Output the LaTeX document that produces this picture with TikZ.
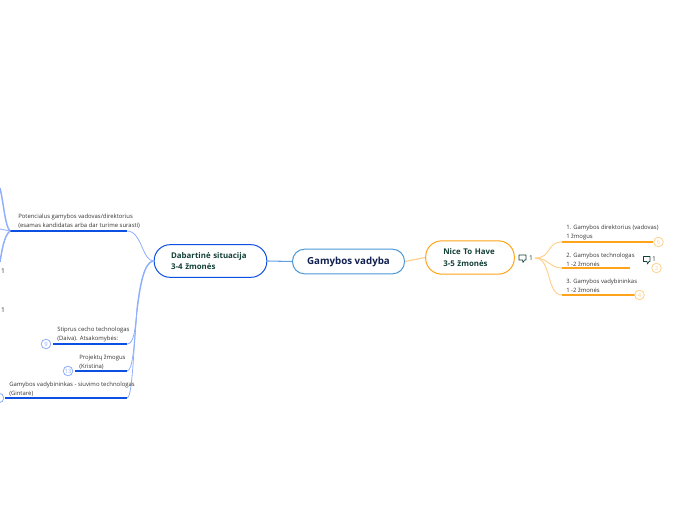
\documentclass[tikz,border=0pt]{standalone}
\usepackage{fontspec}
\setmainfont{Open Sans}
\definecolor{bl}{HTML}{0B4FE3}
\definecolor{lb}{HTML}{8FAEFB}
\definecolor{org}{HTML}{FFA31A}
\definecolor{lo}{HTML}{FFD08A}
\definecolor{rootb}{HTML}{4A97D8}
\definecolor{dg}{HTML}{123F36}
\definecolor{navy}{HTML}{10204F}
\definecolor{tx}{HTML}{333333}
\tikzset{
 main/.style={draw,rounded corners=#1,line width=0.75pt,fill=white,inner sep=0pt},
 sub/.style={font=\fontsize{4.45pt}{6.6pt}\selectfont,text=tx,align=left,anchor=south west,inner sep=0pt},
 badge/.style={circle,draw,fill=white,line width=0.6pt,minimum size=7.2pt,inner sep=0pt,font=\fontsize{4.4pt}{4.6pt}\selectfont},
 num/.style={font=\fontsize{5pt}{6pt}\selectfont,text=tx,inner sep=0pt},
 note/.style={draw=dg,line width=0.5pt,line join=round},
 thinb/.style={lb,line width=0.6pt},
 thickb/.style={lb,line width=1.1pt},
 thino/.style={lo,line width=0.7pt},
 stem/.style={line width=1pt}
}
\begin{document}
\begin{tikzpicture}[x=0.75pt,y=-0.75pt]
\useasboundingbox (0,0) rectangle (696,520);
\node[main=9pt,draw=rootb,minimum width=84pt,minimum height=18.5pt,font=\fontsize{7.3pt}{9pt}\selectfont\bfseries,text=navy] (root) at (348.5,261.5) {Gamybos vadyba};
\node[main=12pt,draw=bl,minimum width=84.5pt,minimum height=24.5pt,text=dg,font=\fontsize{5.9pt}{8.6pt}\selectfont\bfseries,align=left,text width=59pt] (dab) at (210.5,261) {Dabartinė situacija\\3-4 žmonės};
\node[main=12pt,draw=org,minimum width=66.5pt,minimum height=25pt,text=dg,font=\fontsize{5.9pt}{8.4pt}\selectfont\bfseries,align=left,text width=40pt] (nice) at (470,257.5) {Nice To Have\\3-5 žmonės};
\coordinate (hub) at (10,231);
\coordinate (pr) at (127,231);
\coordinate (sr) at (127,344);
\coordinate (sl) at (53,344);
\coordinate (kr) at (127,371);
\coordinate (kl) at (75,371);
\coordinate (gr) at (127,398);
\coordinate (gl) at (5,398);
\coordinate (na) at (562,242);
\coordinate (nb) at (562,268);
\coordinate (nc) at (562,295);
\coordinate (naa) at (653,242);
\coordinate (nbb) at (630,268);
\coordinate (ncc) at (635,295);
\coordinate (bus) at (535,258);
\coordinate (du) at (153,261);
\coordinate (j) at (137,310);
\draw[thinb] (dab.west) .. controls (142,261) and (142,231) .. (pr);
\draw[thinb] (j) .. controls (135,330) and (134,344) .. (sr);
\draw[thinb] (j) .. controls (134,345) and (133,371) .. (kr);
\draw[thinb] (j) .. controls (133,360) and (132,398) .. (gr);
\draw[thickb] (du) .. controls (144,263) and (140,285) .. (j);
\draw[bl,stem] (hub) -- (pr);
\draw[bl,stem] (sl) -- (sr);
\draw[bl,stem] (kl) -- (kr);
\draw[bl,stem] (gl) -- (gr);
\draw[thickb] (hub) .. controls (5,226) and (4,205) .. (0,188);
\draw[thickb] (hub) .. controls (4,236) and (2,250) .. (0,262);
\draw[thinb] (hub) -- (0,229);
\draw[rootb!60!lb,line width=0.8pt] (dab.east) -- (root.west);
\draw[lo,line width=0.9pt] (root.east) -- (nice.west);
\draw[thino] (bus) .. controls (552,258) and (546,242) .. (na);
\draw[thino] (bus) .. controls (548,258) and (550,268) .. (nb);
\draw[thino] (bus) .. controls (552,258) and (546,295) .. (nc);
\draw[org,stem] (na) -- (naa);
\draw[org,stem] (nb) -- (nbb);
\draw[org,stem] (nc) -- (ncc);
\node[sub] (tp) at (18,229) {Potencialus gamybos vadovas/direktorius\\(esamas kandidatas arba dar turime surasti)};
\node[sub] (ts) at (57,342) {Stiprus cecho technologas\\(Daiva). Atsakomybės:};
\node[sub] (tk) at (79,370) {Projektų žmogus\\(Kristina)};
\node[sub] (tg) at (9,396.5) {Gamybos vadybininkas - siuvimo technologas\\(Gintarė)};
\node[badge,draw=lb,text=lb] (b9) at (46,344) {9};
\node[badge,draw=lb,text=lb] (b13) at (68,371) {13};
\node[badge,draw=lb,text=lb] (b0) at (-1,398) {};
\node[num] (n1) at (3,271.5) {1};
\node[num] (n2) at (3,310) {1};
\node[sub] (ta) at (566,240) {1. Gamybos direktorius (vadovas)\\1 žmogus};
\node[sub] (tb) at (566,266.5) {2. Gamybos technologas\\1 -2 žmonės};
\node[sub] (tc) at (566,293) {3. Gamybos vadybininkas\\1 -2 žmonės};
\node[badge,draw=lo,text=lo] (b6) at (658.5,242) {6};
\node[badge,draw=lo,text=lo] (b2) at (656.5,268) {2};
\node[badge,draw=lo,text=lo] (b4) at (639.5,295) {4};
\draw[note] (519,255) -- (526,255) -- (526,260) -- (524.5,260) -- (523,262.5) -- (522.5,260) -- (519,260) -- cycle;
\node[num,text=dg] (n3) at (531,258.5) {1};
\draw[note] (643.5,256.5) -- (650,256.5) -- (650,261.5) -- (649,261.5) -- (647.5,264) -- (647,261.5) -- (643.5,261.5) -- cycle;
\node[num] (n4) at (654,259.5) {1};
\end{tikzpicture}
\end{document}
